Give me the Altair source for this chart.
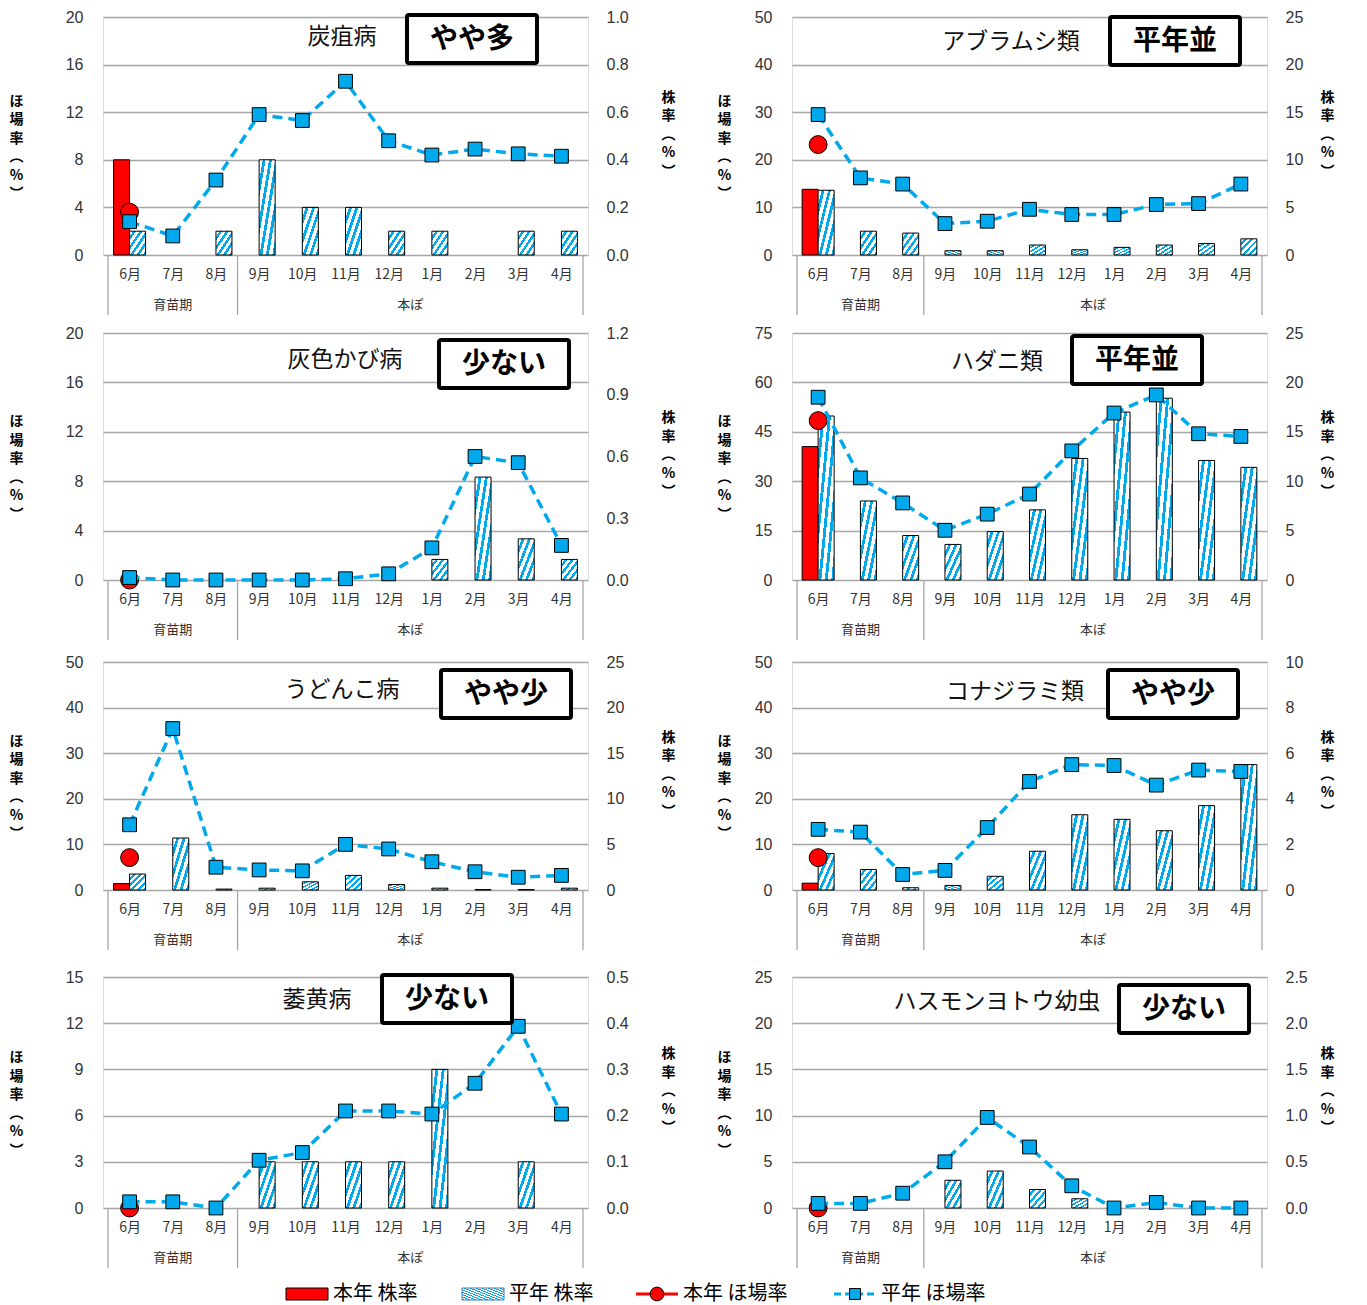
import altair as alt
import pandas as pd

# ---------------- data ----------------
months = ["6月", "7月", "8月", "9月", "10月", "11月", "12月", "1月", "2月", "3月", "4月"]
group_names = ["育苗期", "本ぽ"]
group_centers = [1, 6.5]
group_edges = [-0.5, 2.5, 10.5]

panel_names = ["炭疽病", "アブラムシ類", "灰色かび病", "ハダニ類",
               "うどんこ病", "コナジラミ類", "萎黄病", "ハスモンヨトウ幼虫"]
panel_status = ["やや多", "平年並", "少ない", "平年並", "やや少", "やや少", "少ない", "少ない"]

left_max = [20, 50, 20, 75, 50, 50, 15, 25]
left_step = [4, 10, 4, 15, 10, 10, 3, 5]
right_max = [1.0, 25, 1.2, 25, 25, 10, 0.5, 2.5]
right_step = [0.2, 5, 0.3, 5, 5, 2, 0.1, 0.5]
right_fmt = [".1f", "d", ".1f", "d", "d", "d", ".1f", ".1f"]

# 本年 (June only)
honnen_kabu_june = [0.4, 6.9, None, 13.5, 0.7, 0.3, None, None]
honnen_hojo_june = [3.6, 23.2, 0.0, 48.4, 7.1, 7.1, 0.0, 0.0]

# 平年 株率 (right axis)
tanso_kabu = [0.1, None, 0.1, 0.4, 0.2, 0.2, 0.1, 0.1, None, 0.1, 0.1]
aburamushi_kabu = [6.8, 2.5, 2.3, 0.45, 0.45, 1.05, 0.55, 0.8, 1.05, 1.2, 1.7]
haiiro_kabu = [None, None, None, None, None, None, None, 0.1, 0.5, 0.2, 0.1]
hadani_kabu = [16.6, 8.0, 4.5, 3.6, 4.9, 7.1, 12.3, 17.0, 18.4, 12.1, 11.4]
udonko_kabu = [1.75, 5.7, 0.1, 0.2, 0.9, 1.6, 0.6, 0.2, 0.05, 0.05, 0.2]
konajirami_kabu = [1.6, 0.9, 0.1, 0.2, 0.6, 1.7, 3.3, 3.1, 2.6, 3.7, 5.5]
ioubyo_kabu = [None, None, None, 0.1, 0.1, 0.1, 0.1, 0.3, None, 0.1, None]
hasumon_kabu = [None, None, None, 0.3, 0.4, 0.2, 0.1, None, None, None, None]

# 平年 ほ場率 (left axis)
tanso_hojo = [2.8, 1.6, 6.3, 11.8, 11.3, 14.6, 9.6, 8.4, 8.9, 8.5, 8.3]
aburamushi_hojo = [29.5, 16.2, 14.9, 6.6, 7.1, 9.6, 8.5, 8.5, 10.6, 10.8, 14.9]
haiiro_hojo = [0.2, 0.0, 0.0, 0.0, 0.0, 0.1, 0.5, 2.6, 10.0, 9.5, 2.8]
hadani_hojo = [55.5, 31.0, 23.4, 15.1, 20.0, 26.1, 39.2, 50.7, 56.2, 44.4, 43.6]
udonko_hojo = [14.3, 35.4, 5.0, 4.4, 4.2, 10.0, 9.0, 6.2, 4.0, 2.8, 3.2]
konajirami_hojo = [13.3, 12.7, 3.4, 4.3, 13.7, 23.8, 27.5, 27.3, 23.0, 26.3, 26.0]
ioubyo_hojo = [0.4, 0.4, 0.0, 3.1, 3.6, 6.3, 6.3, 6.1, 8.1, 11.8, 6.1]
hasumon_hojo = [0.5, 0.5, 1.6, 5.0, 9.8, 6.6, 2.4, 0.0, 0.6, 0.0, 0.0]

heinen_kabu_all = [tanso_kabu, aburamushi_kabu, haiiro_kabu, hadani_kabu,
                   udonko_kabu, konajirami_kabu, ioubyo_kabu, hasumon_kabu]
heinen_hojo_all = [tanso_hojo, aburamushi_hojo, haiiro_hojo, hadani_hojo,
                   udonko_hojo, konajirami_hojo, ioubyo_hojo, hasumon_hojo]

legend_labels = ["本年 株率", "平年 株率", "本年 ほ場率", "平年 ほ場率"]

# ---------------- style / layout ----------------
BLUE = "#00A9EC"
RED = "#FF0000"
GRID = "#A6A6A6"
TXT = "#333333"
JP = "Noto Sans CJK JP"
NUM = "Liberation Sans"

ROW_H = [238, 247, 228, 231]
ROW_GAP = [7, 11, 16, 13]
COL_W = [485, 475]
COL_LTITLE = [-87, -68]
COL_RTITLE = [80, 60]
TITLE_LH = 18.5
TITLE_FS = 14
# per panel: title centre dx, dy ; status box left dx, top dy (pixels from plot origin)
ANNOT = [(239, 20, 304, -2), (219, 25, 318, 0), (242, 27, 336, 7), (205, 29, 280, 3),
         (239, 28, 338, 8), (223, 30, 316, 8), (214, 23, 279, -2), (205, 25, 327, 8)]
BOX_W, BOX_H = 130, 48
# legend item x positions (pixels from the legend origin)
LEG_RECT1, LEG_RECT2, LEG_LINE1, LEG_LINE2 = 183, 359, 533, 731
LEG_SYM_W = 42
LEG_TEXT_DX = 47


def hatch(n, frac=0.45):
    stops = []
    for k in range(n):
        a = k / n
        b = (k + 1 - frac) / n
        c = (k + 1) / n
        stops += [alt.GradientStop(offset=a, color="white"),
                  alt.GradientStop(offset=b, color="white"),
                  alt.GradientStop(offset=b, color=BLUE),
                  alt.GradientStop(offset=c, color=BLUE)]
    return alt.LinearGradient(gradient="linear", stops=stops, x1=0, y1=0, x2=1, y2=1)


label_expr = "[" + ",".join("'%s'" % m for m in months) + "][datum.value]"


def xenc(field):
    return alt.X(field + ":Q",
                 scale=alt.Scale(domain=[-0.5, 10.5], nice=False, zero=False),
                 axis=alt.Axis(values=list(range(len(months))), labelExpr=label_expr, title=None,
                               grid=False, ticks=False, domain=False, labelPadding=12,
                               labelFontSize=14, labelFont=JP, labelColor=TXT,
                               labelOverlap=False, labelFlush=False))


def ticks(mx, st):
    n = int(round(mx / st))
    return [round(k * st, 6) for k in range(n + 1)]


def panel(p, col, H):
    W = COL_W[col]
    ltitle = ["ほ", "場", "率", "︵", "%", "︶"]
    rtitle = ["株", "率", "︵", "%", "︶"]
    yl = alt.Y("v:Q", scale=alt.Scale(domain=[0, left_max[p]], nice=False, zero=True),
               axis=alt.Axis(orient="left", values=ticks(left_max[p], left_step[p]),
                             title=ltitle, titleAngle=0,
                             titleX=COL_LTITLE[col],
                             titleY=H / 2 - 35,
                             titleAlign="center",
                             titleBaseline="middle", titleFont=JP, titleFontSize=TITLE_FS,
                             titleFontWeight="bold", titleLineHeight=TITLE_LH, titleColor="black",
                             grid=True, gridColor=GRID, gridWidth=1.3, domain=False, ticks=False,
                             labelPadding=20, labelFontSize=16, labelFont=NUM, labelColor=TXT))
    yr = alt.Y("k:Q", scale=alt.Scale(domain=[0, right_max[p]], nice=False, zero=True),
               axis=alt.Axis(orient="right", values=ticks(right_max[p], right_step[p]),
                             format=right_fmt[p],
                             title=rtitle, titleAngle=0,
                             titleX=COL_RTITLE[col],
                             titleY=H / 2 - 39,
                             titleAlign="center",
                             titleBaseline="middle", titleFont=JP, titleFontSize=TITLE_FS,
                             titleFontWeight="bold", titleLineHeight=TITLE_LH, titleColor="black",
                             grid=False, domain=False, ticks=False,
                             labelPadding=18, labelFontSize=16, labelFont=NUM, labelColor=TXT))

    kdf = pd.DataFrame({"i": list(range(len(months))), "k": heinen_kabu_all[p]})
    rdf = pd.DataFrame({"i": [0], "k": [honnen_kabu_june[p]]})
    hdf = pd.DataFrame({"i": list(range(len(months))), "v": heinen_hojo_all[p]})
    cdf = pd.DataFrame({"i": [0], "v": [honnen_hojo_june[p]]})

    red_bar = alt.Chart(rdf).mark_bar(width=16, xOffset=-8, fill=RED, stroke="black",
                                      strokeWidth=1).encode(x=xenc("i"), y=yr)
    hat_bar = alt.Chart(kdf).mark_bar(width=16, xOffset=8, fill=hatch(5), stroke="black",
                                      strokeWidth=1).encode(x=xenc("i"), y=yr)
    bars = alt.layer(red_bar, hat_bar)

    circ = alt.Chart(cdf).mark_point(shape="circle", filled=True, fill=RED, stroke="black",
                                     strokeWidth=1, size=320, opacity=1).encode(x=xenc("i"), y=yl)
    line = alt.Chart(hdf).mark_line(color=BLUE, strokeWidth=3.5,
                                    strokeDash=[10, 6]).encode(x=xenc("i"), y=yl)
    sq = alt.Chart(hdf).mark_point(shape="square", filled=True, fill=BLUE, stroke="black",
                                   strokeWidth=1, size=190, opacity=1).encode(x=xenc("i"), y=yl)
    lines = alt.layer(circ, line, sq)

    tdx, tdy, bdx, bdy = ANNOT[p]
    one = pd.DataFrame({"a": [0]})
    title = alt.Chart(one).mark_text(font=JP, fontSize=23, color="#111111", baseline="middle",
                                     align="center").encode(
        x=alt.value(tdx), y=alt.value(tdy), text=alt.value(panel_names[p]))
    box = alt.Chart(one).mark_rect(fill="white", stroke="black", strokeWidth=4,
                                   cornerRadius=2).encode(
        x=alt.value(bdx), x2=alt.value(bdx + BOX_W), y=alt.value(bdy), y2=alt.value(bdy + BOX_H))
    status = alt.Chart(one).mark_text(font=JP, fontSize=28, fontWeight="bold", color="black",
                                      baseline="middle", align="center").encode(
        x=alt.value(bdx + BOX_W / 2), y=alt.value(bdy + BOX_H / 2 + 1),
        text=alt.value(panel_status[p]))

    ddf = pd.DataFrame({"d": group_edges})
    dividers = alt.Chart(ddf).mark_rule(color=GRID, strokeWidth=1.3).encode(
        x=xenc("d"), y=alt.value(H), y2=alt.value(H + 60))
    gdf = pd.DataFrame({"c": group_centers, "g": group_names})
    groups = alt.Chart(gdf).mark_text(font=JP, fontSize=13, color=TXT, baseline="middle").encode(
        x=xenc("c"), y=alt.value(H + 50), text="g:N")

    return alt.layer(bars, lines, dividers, groups, box, status, title).resolve_scale(
        y="independent").properties(width=W, height=H)


rows = []
for r in range(4):
    rows.append(alt.hconcat(panel(2 * r, 0, ROW_H[r]), panel(2 * r + 1, 1, ROW_H[r]), spacing=40))

# ---------------- legend ----------------
one = pd.DataFrame({"a": [0]})
LY = 10
leg_layers = [
    alt.Chart(one).mark_rect(fill=RED, stroke="black", strokeWidth=1).encode(
        x=alt.value(LEG_RECT1), x2=alt.value(LEG_RECT1 + LEG_SYM_W),
        y=alt.value(LY - 6), y2=alt.value(LY + 6)),
    alt.Chart(one).mark_rect(fill=hatch(14), stroke="#3A7FB5", strokeWidth=1).encode(
        x=alt.value(LEG_RECT2), x2=alt.value(LEG_RECT2 + LEG_SYM_W),
        y=alt.value(LY - 6), y2=alt.value(LY + 6)),
    alt.Chart(one).mark_rule(color=RED, strokeWidth=3).encode(
        x=alt.value(LEG_LINE1), x2=alt.value(LEG_LINE1 + LEG_SYM_W), y=alt.value(LY)),
    alt.Chart(one).mark_point(shape="circle", filled=True, fill=RED, stroke="black",
                              strokeWidth=1, size=190, opacity=1).encode(
        x=alt.value(LEG_LINE1 + LEG_SYM_W / 2), y=alt.value(LY)),
    alt.Chart(one).mark_rule(color=BLUE, strokeWidth=3, strokeDash=[7, 4]).encode(
        x=alt.value(LEG_LINE2), x2=alt.value(LEG_LINE2 + LEG_SYM_W), y=alt.value(LY)),
    alt.Chart(one).mark_point(shape="square", filled=True, fill=BLUE, stroke="black",
                              strokeWidth=1, size=120, opacity=1).encode(
        x=alt.value(LEG_LINE2 + LEG_SYM_W / 2), y=alt.value(LY)),
]
for lx, lab in zip([LEG_RECT1, LEG_RECT2, LEG_LINE1, LEG_LINE2], legend_labels):
    leg_layers.append(alt.Chart(one).mark_text(font=JP, fontSize=20, color="black", align="left",
                                               baseline="middle").encode(
        x=alt.value(lx + LEG_TEXT_DX), y=alt.value(LY), text=alt.value(lab)))
legend = alt.layer(*leg_layers).properties(width=1000, height=20,
                                          view=alt.ViewBackground(stroke="transparent"))

body = alt.vconcat(rows[0], rows[1], spacing=ROW_GAP[0])
body = alt.vconcat(body, rows[2], spacing=ROW_GAP[1])
body = alt.vconcat(body, rows[3], spacing=ROW_GAP[2])
chart = alt.vconcat(body, legend, spacing=ROW_GAP[3]).properties(
    padding={"left": 0, "top": 0, "right": 0, "bottom": 0}
).configure_view(stroke=GRID, strokeWidth=1.3).configure(background="white")

chart.save("out.html", embed_options={"renderer": "svg", "actions": False})
